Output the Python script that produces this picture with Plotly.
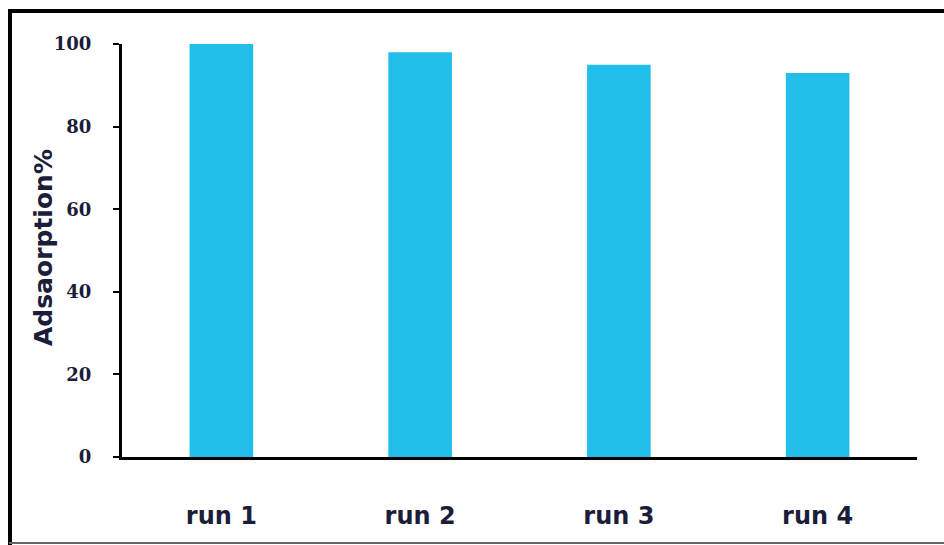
import plotly.graph_objects as go

categories = ["run 1", "run 2", "run 3", "run 4"]
adsorption = [100, 98, 95, 93]
y_ticks = [0, 20, 40, 60, 80, 100]

fig = go.Figure()
fig.add_trace(go.Bar(
    x=categories, y=adsorption, width=0.32,
    marker=dict(color="#22BEEA", line=dict(width=0)),
))

W, H = 944, 545
ml, mr, mt, mb = 122, 27, 44, 88
pw, ph = W - ml - mr, H - mt - mb

def px_x(x):
    return (x - ml) / pw

def px_y(y):
    return (H - mb - y) / ph

shapes = [
    dict(type="line", xref="paper", yref="paper", x0=px_x(9), x1=px_x(960), y0=px_y(11), y1=px_y(11), line=dict(color="black", width=4)),
    dict(type="line", xref="paper", yref="paper", x0=px_x(10), x1=px_x(10), y0=px_y(9), y1=px_y(560), line=dict(color="black", width=4)),
    dict(type="line", xref="paper", yref="paper", x0=px_x(9), x1=px_x(960), y0=px_y(543), y1=px_y(543), line=dict(color="#666666", width=2)),
]

txt = "#1b1d3a"
fig.update_layout(
    width=W, height=H,
    margin=dict(l=ml, r=mr, t=mt, b=mb, autoexpand=False),
    paper_bgcolor="white", plot_bgcolor="white",
    showlegend=False,
    shapes=shapes,
    annotations=[dict(
        text="Adsaorption%", textangle=-90, xref="paper", yref="paper",
        x=px_x(43), y=px_y(248), xanchor="center", yanchor="middle", showarrow=False,
        font=dict(family="DejaVu Sans", size=25, color=txt, weight="bold"),
    )],
    xaxis=dict(
        range=[-0.5, 3.5], showline=True, linecolor="black", linewidth=3,
        ticks="", showgrid=False, zeroline=False,
        tickfont=dict(family="DejaVu Sans", size=24, color=txt, weight="bold"),
        ticklabelstandoff=35,
    ),
    yaxis=dict(
        range=[0, 100], tickvals=y_ticks, showline=True, linecolor="black", linewidth=3,
        ticks="outside", ticklen=6, tickwidth=2, tickcolor="black",
        showgrid=False, zeroline=False,
        tickfont=dict(family="DejaVu Serif", size=18, color=txt, weight="bold"),
        ticklabelstandoff=18,
    ),
)

fig.write_html("out.html", config={"displayModeBar": False},
               post_script="document.body.style.margin='0';document.body.style.padding='0';")
